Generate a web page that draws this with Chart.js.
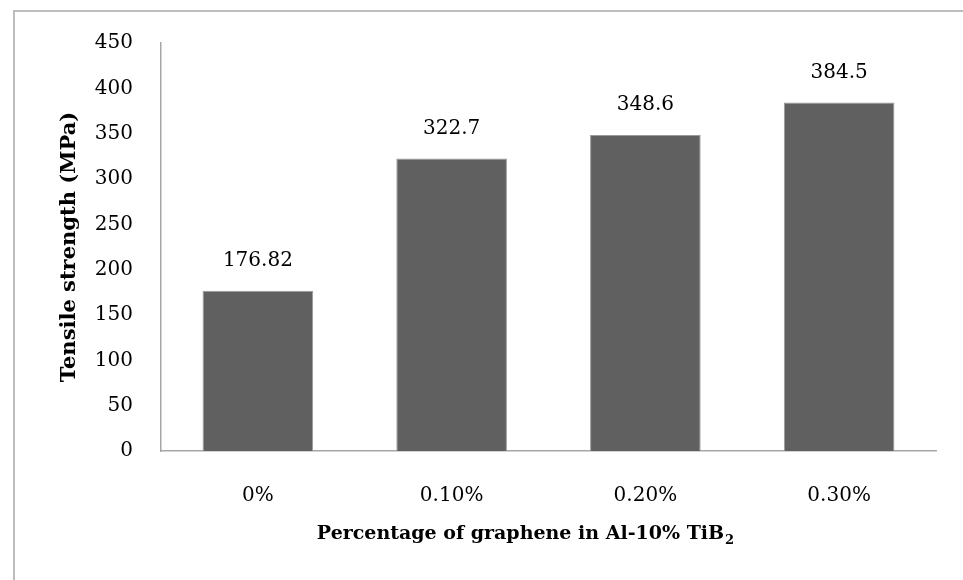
<!DOCTYPE html>
<html>
<head>
<meta charset="utf-8">
<script src="https://cdn.jsdelivr.net/npm/chart.js@4.4.0/dist/chart.umd.min.js"></script>
<style>
  html, body { margin: 0; padding: 0; background: #fff; }
  #wrap { position: relative; width: 963px; height: 580px; overflow: hidden; }
  #frame {
    position: absolute; left: 13px; top: 10px; width: 1000px; height: 1000px;
    border-top: 2px solid #bdbdbd; border-left: 2px solid #bdbdbd;
  }
  #tensileChart { position: absolute; left: 0; top: 0; }
</style>
</head>
<body>
<div id="wrap">
  <div id="frame"></div>
  <canvas id="tensileChart" width="963" height="580"></canvas>
</div>
<script>
// ---------- chart data ---------- //
const categories = ["0%", "0.10%", "0.20%", "0.30%"];
const tensileValues = [176.82, 322.7, 348.6, 384.5];
const valueLabels = ["176.82", "322.7", "348.6", "384.5"];
const yTicks = [0, 50, 100, 150, 200, 250, 300, 350, 400, 450];
const xTitleMain = "Percentage of graphene in Al-10% TiB";
const xTitleSub = "2";

const serif = "'DejaVu Serif', serif";

// draws the value above each bar
const barValueLabels = {
  id: "barValueLabels",
  afterDatasetsDraw(chart) {
    const { ctx } = chart;
    const meta = chart.getDatasetMeta(0);
    ctx.save();
    ctx.font = "20px " + serif;
    ctx.fillStyle = "#000";
    ctx.textAlign = "center";
    ctx.textBaseline = "middle";
    meta.data.forEach((bar, i) => {
      ctx.fillText(valueLabels[i], bar.x, bar.y - 30);
    });
    ctx.restore();
  },
};

// x axis title with a real subscript, centred a bit left of the plot like the original
const xAxisTitle = {
  id: "xAxisTitle",
  afterDraw(chart) {
    const { ctx } = chart;
    ctx.save();
    ctx.fillStyle = "#000";
    ctx.textBaseline = "alphabetic";
    ctx.font = "bold 19px " + serif;
    const mainWidth = ctx.measureText(xTitleMain).width;
    ctx.font = "bold 13px " + serif;
    const subWidth = ctx.measureText(xTitleSub).width;
    const start = 525 - (mainWidth + subWidth) / 2;
    const baseline = 539;
    ctx.font = "bold 19px " + serif;
    ctx.fillText(xTitleMain, start, baseline);
    ctx.font = "bold 13px " + serif;
    ctx.fillText(xTitleSub, start + mainWidth + 1, baseline + 5);
    ctx.restore();
  },
};

const $tensileChart = document.getElementById("tensileChart");

new Chart($tensileChart, {
  type: "bar",
  data: {
    labels: categories,
    datasets: [
      {
        data: tensileValues,
        backgroundColor: "#606060",
        borderColor: "#9a9a9a",
        borderWidth: 1,
        categoryPercentage: 1,
        barPercentage: 0.571,
      },
    ],
  },
  options: {
    responsive: false,
    animation: false,
    layout: { padding: { left: 57, right: 27, top: 43, bottom: 30 } },
    plugins: {
      legend: { display: false },
      tooltip: { enabled: false },
    },
    scales: {
      x: {
        grid: { display: false, drawTicks: false },
        border: { color: "#a6a6a6", width: 1.5 },
        ticks: {
          padding: 33,
          color: "#000",
          font: { family: serif, size: 20 },
        },
        afterFit(scale) {
          scale.height = 580 - 451 - 30;
        },
      },
      y: {
        min: 0,
        max: 450,
        afterBuildTicks(scale) {
          scale.ticks = yTicks.map((v) => ({ value: v }));
        },
        grid: { display: false, drawTicks: false },
        border: { color: "#a6a6a6", width: 1.5 },
        ticks: {
          padding: 28,
          color: "#000",
          font: { family: serif, size: 20 },
        },
        title: {
          display: true,
          text: "Tensile strength (MPa)",
          color: "#000",
          font: { family: serif, size: 21, weight: "bold" },
          padding: { top: 0, bottom: 0 },
        },
        afterFit(scale) {
          scale.width = 161 - 57;
        },
      },
    },
  },
  plugins: [barValueLabels, xAxisTitle],
});
</script>
</body>
</html>
